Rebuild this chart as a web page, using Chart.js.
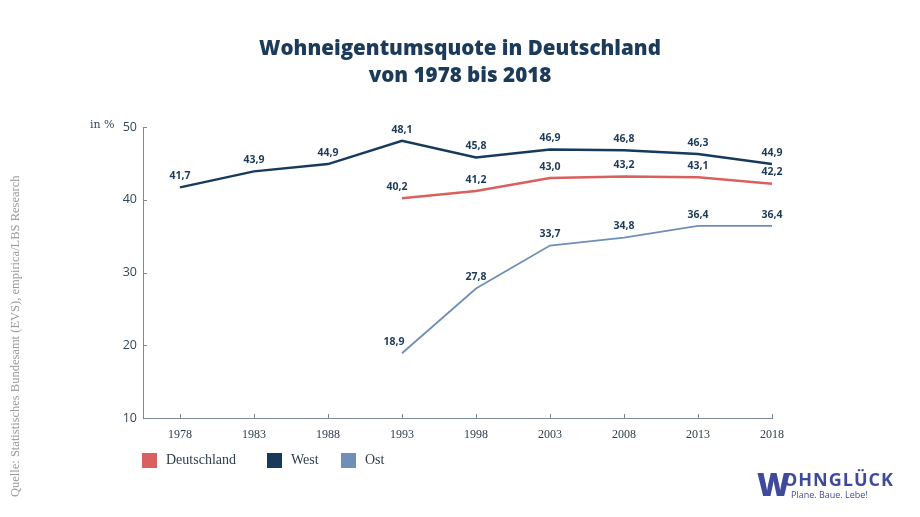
<!DOCTYPE html>
<html>
<head>
<meta charset="utf-8">
<script src="https://cdn.jsdelivr.net/npm/chart.js@4"></script>
<style>
  body { margin: 0; background: #fff; }
  #wrap { position: relative; width: 920px; height: 517px; overflow: hidden; }
  #chart { position: absolute; left: 0; top: 0; }
  .title { position: absolute; left: 0; width: 920px; top: 34px; text-align: center;
    font-family: "Open Sans", sans-serif; font-weight: 800; font-size: 20.6px; line-height: 27px; color: #1c3a5a; }
  .unit { position: absolute; left: 90px; top: 118px; font-family: "DejaVu Serif", serif; font-size: 11px; color: #33475b; }
  .source { position: absolute; left: 8px; top: 497px; transform-origin: 0 0; transform: rotate(-90deg);
    font-family: "Liberation Serif", serif; font-size: 12.5px; color: #9a9a9a; white-space: nowrap; }
  .legend { position: absolute; top: 453px; font-family: "Liberation Serif", serif; font-size: 14px; color: #2d3e50; }
  .legend span.box { position: absolute; left: 0; top: 0; width: 15px; height: 15px; }
  .legend span.txt { position: absolute; left: 24px; top: -1px; white-space: nowrap; }
  .logo { position: absolute; left: 757px; top: 465px; font-family: "Open Sans", sans-serif; }
  .logo .w { position: absolute; left: 0; top: -3px; font-size: 32px; font-weight: 800; color: #3f4a9c; }
  .logo .name { position: absolute; left: 26px; top: 2px; font-size: 18px; font-weight: 700; color: #3f4a9c; letter-spacing: 1px; }
  .logo .sub { position: absolute; left: 34px; top: 23px; font-size: 9px; color: #3f4a9c; white-space: nowrap; }
</style>
</head>
<body>
<div id="wrap">
  <canvas id="chart" width="920" height="517"></canvas>
  <div class="title">Wohneigentumsquote in Deutschland<br>von 1978 bis 2018</div>
  <div class="unit">in %</div>
  <div class="source">Quelle: Statistisches Bundesamt (EVS), empirica/LBS Research</div>
  <div class="legend" style="left:142px"><span class="box" style="background:#d9605e"></span><span class="txt">Deutschland</span></div>
  <div class="legend" style="left:267px"><span class="box" style="background:#163a5c"></span><span class="txt">West</span></div>
  <div class="legend" style="left:341px"><span class="box" style="background:#6f8fb8"></span><span class="txt">Ost</span></div>
  <div class="logo"><span class="w">W</span><span class="name">OHNGLÜCK</span><span class="sub">Plane. Baue. Lebe!</span></div>
</div>
<script>
let years = [1978, 1983, 1988, 1993, 1998, 2003, 2008, 2013, 2018];
let westValues = [41.7, 43.9, 44.9, 48.1, 45.8, 46.9, 46.8, 46.3, 44.9];
let deutschlandValues = [null, null, null, 40.2, 41.2, 43.0, 43.2, 43.1, 42.2];
let ostValues = [null, null, null, 18.9, 27.8, 33.7, 34.8, 36.4, 36.4];
let yTicks = [10, 20, 30, 40, 50];

function toPoints(values) {
  return years.map((y, i) => ({ x: y, y: values[i] }));
}

// labels above points, german decimal comma
const valueLabels = {
  id: "valueLabels",
  afterDatasetsDraw(chart) {
    const ctx = chart.ctx;
    ctx.save();
    ctx.font = "bold 10.5px 'Open Sans', sans-serif";
    ctx.fillStyle = "#1c3a5a";
    ctx.textAlign = "center";
    ctx.textBaseline = "bottom";
    chart.data.datasets.forEach((ds, di) => {
      chart.getDatasetMeta(di).data.forEach((pt, i) => {
        const v = ds.data[i].y;
        if (v === null) return;
        let dx = 0;
        if (ds.label === "Ost" && i === 3) dx = -8;
        if (ds.label === "Deutschland" && i === 3) dx = -5;
        ctx.fillText(v.toFixed(1).replace(".", ","), pt.x + dx, pt.y - 6);
      });
    });
    ctx.restore();
  },
};

// small tick marks pointing into the plot
const innerTicks = {
  id: "innerTicks",
  afterDraw(chart) {
    const ctx = chart.ctx;
    const xs = chart.scales.x, ys = chart.scales.y;
    ctx.save();
    ctx.strokeStyle = "#7d8a96";
    ctx.lineWidth = 1;
    years.forEach((y) => {
      const px = Math.round(xs.getPixelForValue(y)) + 0.5;
      ctx.beginPath();
      ctx.moveTo(px, ys.bottom);
      ctx.lineTo(px, ys.bottom - 4);
      ctx.stroke();
    });
    yTicks.forEach((t) => {
      const py = Math.round(ys.getPixelForValue(t)) + 0.5;
      ctx.beginPath();
      ctx.moveTo(xs.left, py);
      ctx.lineTo(xs.left + 4, py);
      ctx.stroke();
    });
    ctx.restore();
  },
};

new Chart(document.querySelector("#chart"), {
  type: "line",
  data: {
    datasets: [
      { label: "Deutschland", data: toPoints(deutschlandValues), borderColor: "#d9605e", borderWidth: 2.5 },
      { label: "West", data: toPoints(westValues), borderColor: "#163a5c", borderWidth: 2.5 },
      { label: "Ost", data: toPoints(ostValues), borderColor: "#6f8fb8", borderWidth: 1.8 },
    ],
  },
  options: {
    responsive: false,
    animation: false,
    spanGaps: false,
    elements: { point: { radius: 0 }, line: { tension: 0, fill: false } },
    layout: { padding: { left: 0, top: 127, right: 148, bottom: 0 } },
    plugins: { legend: { display: false }, tooltip: { enabled: false } },
    scales: {
      x: {
        type: "linear",
        min: 1975.5,
        max: 2018,
        afterBuildTicks: (scale) => { scale.ticks = years.map((v) => ({ value: v })); },
        afterFit: (scale) => { scale.height = 99; },
        grid: { display: false, drawTicks: false },
        border: { display: true, color: "#7d8a96", width: 1 },
        ticks: {
          padding: 10,
          color: "#2d3e50",
          font: { family: "'Liberation Serif', serif", size: 12 },
          callback: (v) => String(v),
          maxRotation: 0,
        },
      },
      y: {
        min: 10,
        max: 50,
        afterBuildTicks: (scale) => { scale.ticks = yTicks.map((v) => ({ value: v })); },
        afterFit: (scale) => { scale.width = 143; },
        grid: { display: false, drawTicks: false },
        border: { display: true, color: "#7d8a96", width: 1 },
        ticks: {
          padding: 6,
          color: "#33475b",
          font: { family: "'Open Sans', sans-serif", size: 12.5 },
        },
      },
    },
  },
  plugins: [valueLabels, innerTicks],
});
</script>
</body>
</html>
